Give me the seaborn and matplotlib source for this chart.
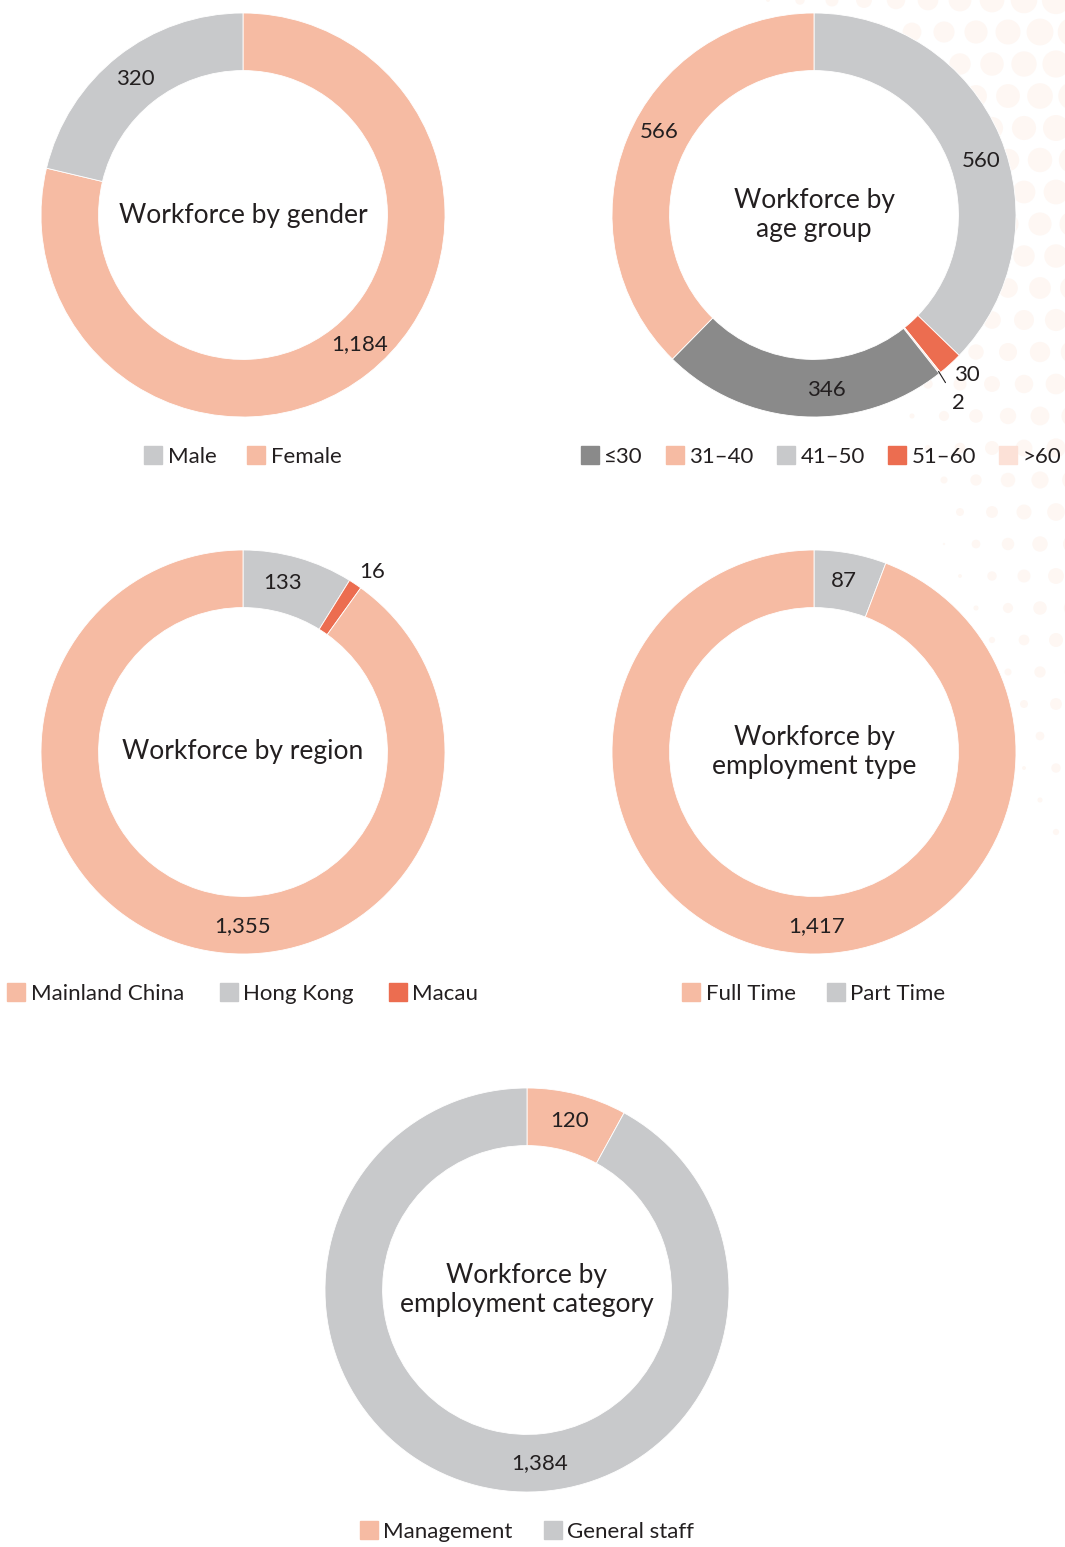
import numpy as np
import matplotlib.pyplot as plt
import seaborn as sns
from matplotlib.lines import Line2D
from matplotlib.patches import Circle

# Data
gender_labels = ["Male", "Female"]
gender_values = [320, 1184]

age_labels = ["≤30", "31–40", "41–50", "51–60", ">60"]
age_values = [346, 566, 560, 30, 2]

region_labels = ["Mainland China", "Hong Kong", "Macau"]
region_values = [1355, 133, 16]

emp_type_labels = ["Full Time", "Part Time"]
emp_type_values = [1417, 87]

emp_cat_labels = ["Management", "General staff"]
emp_cat_values = [120, 1384]

# Colours
PEACH = "#F6BBA3"
LGREY = "#C8C9CB"
DGREY = "#8A8A8A"
RED = "#EC6D50"
PINK = "#FCE1D7"
TEXT = "#231F20"

sns.set_theme(style="white")
plt.rcParams["font.family"] = ["Lato", "DejaVu Sans"]

W, H = 1065, 1547
fig = plt.figure(figsize=(W / 100, H / 100), dpi=100)
fig.patch.set_facecolor("white")

# faint halftone decoration, top right
bg = fig.add_axes([0, 0, 1, 1], zorder=-5)
bg.set_xlim(0, W)
bg.set_ylim(H, 0)
bg.axis("off")
gx, gy = np.meshgrid(np.arange(0, W + 40, 32), np.arange(0, 840, 32))
gx = gx + (np.arange(gx.shape[0])[:, None] % 2) * 16
d = (gx - 760) / 300 - gy / 900
s = np.clip(d, 0, 1) ** 1.1 * 420
bg.scatter(gx.ravel(), gy.ravel(), s=s.ravel(), color="#FEF7F3", lw=0)

R_PX = 202
HALF = 265
FS_NUM = 16


def donut(cx, cy, values, colors, title):
    ax = fig.add_axes([(cx - HALF) / W, 1 - (cy + HALF) / H, 2 * HALF / W, 2 * HALF / H])
    lim = HALF / R_PX
    wedges, _ = ax.pie(values, colors=colors, startangle=90, counterclock=False,
                       radius=1.0, wedgeprops=dict(width=0.285, edgecolor="white", linewidth=0.6))
    ax.add_patch(Circle((0, 0), 0.715, color="white", zorder=0))
    ax.set_xlim(-lim, lim)
    ax.set_ylim(-lim, lim)
    ax.set_aspect("equal")
    ax.axis("off")
    ax.text(0, 0, title, ha="center", va="center", fontsize=19, color=TEXT, linespacing=1.2)
    return ax, wedges


def put_label(ax, w, v, ang=None, r=0.86):
    # label at the slice's middle unless an angle is given
    if ang is None:
        ang = (w.theta1 + w.theta2) / 2
    a = np.deg2rad(ang)
    ax.text(r * np.cos(a), r * np.sin(a), f"{v:,}", ha="center", va="center",
            fontsize=FS_NUM, color=TEXT)


def legend(cx, cy, labels, colors, spacing=1.4):
    handles = [Line2D([], [], marker="s", ls="", markersize=12.5, color=c) for c in colors]
    fig.legend(handles, labels, loc="center", bbox_to_anchor=(cx / W, 1 - cy / H), ncol=len(labels),
               frameon=False, fontsize=16, handlelength=0.8, handletextpad=0.25,
               columnspacing=spacing, labelcolor=TEXT)


# gender: Female first clockwise from top, then Male
ax, ws = donut(243, 215, [gender_values[1], gender_values[0]], [PEACH, LGREY], "Workforce by gender")
put_label(ax, ws[0], gender_values[1], ang=-48)
put_label(ax, ws[1], gender_values[0])
legend(243, 457, gender_labels, [LGREY, PEACH])

# age group: 41-50, 51-60, >60, <=30, 31-40 clockwise from top
age_order = [2, 3, 4, 0, 1]
age_cols = [DGREY, PEACH, LGREY, RED, PINK]
age_angles = {0: -86, 1: 152, 2: 18}
ax, ws = donut(814, 215, [age_values[i] for i in age_order], [age_cols[i] for i in age_order],
               "Workforce by\nage group")
for w, i in zip(ws, age_order):
    v = age_values[i]
    if i == 3:
        put_label(ax, w, v, ang=-46.3, r=1.095)
    elif i == 4:
        a = np.deg2rad((w.theta1 + w.theta2) / 2)
        ax.annotate("2", xy=(0.99 * np.cos(a), 0.99 * np.sin(a)),
                    xytext=(144 / R_PX, -188 / R_PX), ha="center", va="center", fontsize=FS_NUM,
                    color=TEXT, arrowprops=dict(arrowstyle="-", color=TEXT, lw=0.8, shrinkA=6, shrinkB=0))
    else:
        put_label(ax, w, v, ang=age_angles[i], r=0.87)
legend(821, 457, age_labels, age_cols, spacing=1.05)

# region: Hong Kong, Macau, Mainland China clockwise from top
reg_order = [1, 2, 0]
reg_cols = [PEACH, LGREY, RED]
ax, ws = donut(243, 752, [region_values[i] for i in reg_order], [reg_cols[i] for i in reg_order],
               "Workforce by region")
put_label(ax, ws[0], region_values[1], ang=77)
put_label(ax, ws[1], region_values[2], ang=54.4, r=1.095)
put_label(ax, ws[2], region_values[0], ang=-90.3)
legend(243, 994, region_labels, reg_cols, spacing=1.6)

# employment type: Part Time then Full Time
ax, ws = donut(814, 752, [emp_type_values[1], emp_type_values[0]], [LGREY, PEACH],
               "Workforce by\nemployment type")
put_label(ax, ws[0], emp_type_values[1], ang=80)
put_label(ax, ws[1], emp_type_values[0], ang=-89)
legend(814, 994, emp_type_labels, [PEACH, LGREY])

# employment category: Management then General staff
ax, ws = donut(527, 1290, emp_cat_values, [PEACH, LGREY], "Workforce by\nemployment category")
put_label(ax, ws[0], emp_cat_values[0], ang=76)
put_label(ax, ws[1], emp_cat_values[1], ang=-85.8)
legend(527, 1532, emp_cat_labels, [PEACH, LGREY])

fig.savefig("out.png", dpi=100, facecolor="white")
